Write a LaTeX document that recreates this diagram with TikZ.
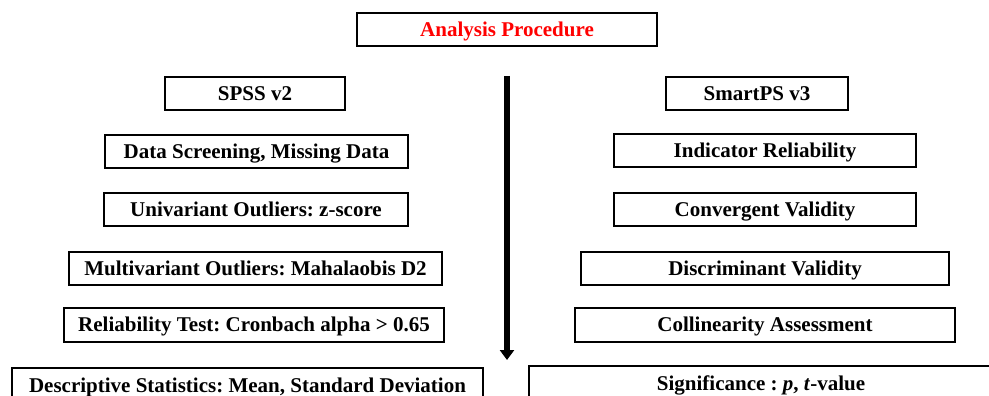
\documentclass[tikz,border=0pt]{standalone}
\usepackage{fontspec}
\setmainfont{Liberation Serif}
\usetikzlibrary{arrows.meta}
\frenchspacing
\tikzset{
  box/.style={draw=black, line width=1.6pt, fill=white, inner sep=0pt, font=\fontsize{21}{24}\selectfont\bfseries, text height=15.5pt, text depth=1.8pt, anchor=center},
}
\begin{document}
\begin{tikzpicture}[x=1pt,y=-1pt]
\useasboundingbox (0,0) rectangle (989,396);
\clip (0,0) rectangle (989,396);
\node[box, text=red, minimum width=300pt, minimum height=33pt] (title) at (507,29.5) {Analysis Procedure};
\node[box, minimum width=180pt, minimum height=33pt] (spss) at (255,93.5) {SPSS v2};
\node[box, minimum width=182pt, minimum height=33pt] (smart) at (757,93.5) {SmartPS v3};
\node[box, minimum width=303pt, minimum height=33pt] (ds) at (256.5,151.5) {Data Screening, Missing Data};
\node[box, minimum width=302pt, minimum height=33pt] (ir) at (765,150.5) {Indicator Reliability};
\node[box, minimum width=304pt, minimum height=33pt] (uo) at (256,209.5) {Univariant Outliers: z-score};
\node[box, minimum width=302pt, minimum height=33pt] (cv) at (765,209.5) {Convergent Validity};
\node[box, minimum width=373pt, minimum height=33pt] (mo) at (255.5,268.5) {Multivariant Outliers: Mahalaobis D2};
\node[box, minimum width=368pt, minimum height=33pt] (dv) at (765,268.5) {Discriminant Validity};
\node[box, minimum width=380pt, minimum height=34pt] (rt) at (254,325) {Reliability Test: Cronbach alpha > 0.65};
\node[box, minimum width=380pt, minimum height=34pt] (ca) at (765,325) {Collinearity Assessment};
\node[box, minimum width=471pt, minimum height=36pt] (desc) at (247.5,386) {Descriptive Statistics: Mean, Standard Deviation};
\node[box, minimum width=464pt, minimum height=36pt] (sig) at (761,384) {Significance : \textit{p}, \textit{t}-value};
\coordinate (atop) at (507,76);
\coordinate (abot) at (507,360);
\draw[line width=6pt, -{Triangle[width=14pt,length=10pt]}] (atop) -- (abot);
\end{tikzpicture}
\end{document}
